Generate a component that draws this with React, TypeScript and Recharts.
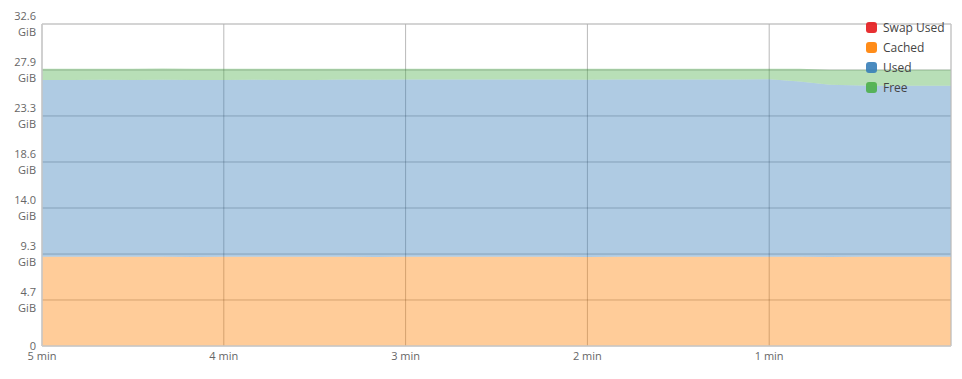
import React from 'react';
import { AreaChart, Area, XAxis, YAxis, CartesianGrid, Legend, ReferenceArea } from 'recharts';

const times = [-300, -290, -280, -270, -260, -250, -240, -230, -220, -210, -200, -190, -180, -170, -160, -150, -140, -130, -120, -110, -100, -90, -80, -70, -60, -50, -40, -30, -20, -10, 0];
const swapUsedGiB = [0, 0, 0, 0, 0, 0, 0, 0, 0, 0, 0, 0, 0, 0, 0, 0, 0, 0, 0, 0, 0, 0, 0, 0, 0, 0, 0, 0, 0, 0, 0];
const cachedGiB = [9.03, 9.03, 9.04, 9.03, 9.03, 9.02, 9.03, 9.04, 9.03, 9.03, 9.03, 9.02, 9.03, 9.03, 9.04, 9.03, 9.03, 9.03, 9.02, 9.03, 9.03, 9.04, 9.03, 9.03, 9.03, 9.03, 9.02, 9.03, 9.03, 9.03, 9.03];
const usedGiB = [17.91, 17.91, 17.91, 17.91, 17.92, 17.91, 17.91, 17.91, 17.91, 17.91, 17.94, 17.94, 17.94, 17.94, 17.94, 17.94, 17.94, 17.94, 17.94, 17.94, 17.94, 17.94, 17.95, 17.96, 17.98, 17.74, 17.44, 17.34, 17.32, 17.32, 17.32];
const freeGiB = [1.13, 1.13, 1.13, 1.13, 1.14, 1.13, 1.13, 1.13, 1.13, 1.13, 1.10, 1.10, 1.10, 1.10, 1.10, 1.10, 1.10, 1.10, 1.10, 1.10, 1.10, 1.10, 1.09, 1.08, 1.06, 1.30, 1.52, 1.60, 1.62, 1.62, 1.62];

const xTickValues = [-300, -240, -180, -120, -60];
const xTickLabels = ['5 min', '4 min', '3 min', '2 min', '1 min'];
const yTickValues = [0, 4.66, 9.31, 13.97, 18.63, 23.29, 27.94, 32.6];
const yTickLabels = ['0', '4.7', '9.3', '14.0', '18.6', '23.3', '27.9', '32.6'];

const seriesNames = ['Swap Used', 'Cached', 'Used', 'Free'];
const seriesKeys = ['swap', 'cached', 'used', 'free'];
const seriesColors = ['#e41a1c', '#ff7f00', '#377eb8', '#4daf4a'];

const data = times.map((t, i) => ({
  t,
  swap: swapUsedGiB[i],
  cached: cachedGiB[i],
  used: usedGiB[i],
  free: freeGiB[i],
}));

const FONT = '"Open Sans", sans-serif';

const YTick = (props: any) => {
  const { x, y, index } = props;
  const label = yTickLabels[index];
  const tx = x + 2;
  if (index === 0) {
    return (
      <text x={tx} y={y + 4} textAnchor="end" fill="#666" fontSize={11} fontFamily={FONT}>
        {label}
      </text>
    );
  }
  return (
    <text x={tx} textAnchor="end" fill="#666" fontSize={11} fontFamily={FONT}>
      <tspan x={tx} y={y - 4}>{label}</tspan>
      <tspan x={tx} y={y + 12}>GiB</tspan>
    </text>
  );
};

const XTick = (props: any) => {
  const { x, y, index } = props;
  return (
    <text x={x} y={y + 6} textAnchor="middle" fill="#666" fontSize={11} fontFamily={FONT}>
      {xTickLabels[index]}
    </text>
  );
};

const LegendContent = () => (
  <div style={{ fontFamily: FONT, fontSize: 12, color: '#444' }}>
    {seriesNames.map((n, i) => (
      <div key={n} style={{ display: 'flex', alignItems: 'center', height: 20 }}>
        <span
          style={{
            display: 'inline-block',
            width: 11,
            height: 11,
            borderRadius: 3,
            background: seriesColors[i],
            opacity: 0.9,
            marginRight: 6,
          }}
        />
        <span>{n}</span>
      </div>
    ))}
  </div>
);

export default function App() {
  return (
    <AreaChart
      width={946}
      height={371}
      data={data}
      margin={{ top: 16, right: 3, bottom: 3, left: 0 }}
    >
      {seriesKeys.map((k, i) => (
        <Area
          key={k}
          dataKey={k}
          name={seriesNames[i]}
          stackId="mem"
          type="linear"
          stroke="none"
          fill={seriesColors[i]}
          fillOpacity={0.4}
          isAnimationActive={false}
          dot={false}
          activeDot={false}
        />
      ))}
      <CartesianGrid stroke="#000" strokeOpacity={0.28} strokeDasharray="" />
      <ReferenceArea x1={-300} x2={0} y1={0} y2={32.6} fill="none" stroke="#ccc" strokeWidth={1} />
      <XAxis
        dataKey="t"
        type="number"
        domain={[-300, 0]}
        ticks={xTickValues}
        interval={0}
        tick={<XTick />}
        tickLine={false}
        axisLine={{ stroke: '#ccc' }}
        height={30}
      />
      <YAxis
        type="number"
        domain={[0, 32.6]}
        ticks={yTickValues}
        interval={0}
        tick={<YTick />}
        tickLine={false}
        axisLine={{ stroke: '#ccc' }}
        width={34}
        allowDataOverflow
      />
      <Legend
        layout="vertical"
        align="center"
        verticalAlign="middle"
        content={<LegendContent />}
        wrapperStyle={{ position: 'absolute', left: 858, top: 9, width: 'auto', height: 'auto' }}
      />
    </AreaChart>
  );
}
